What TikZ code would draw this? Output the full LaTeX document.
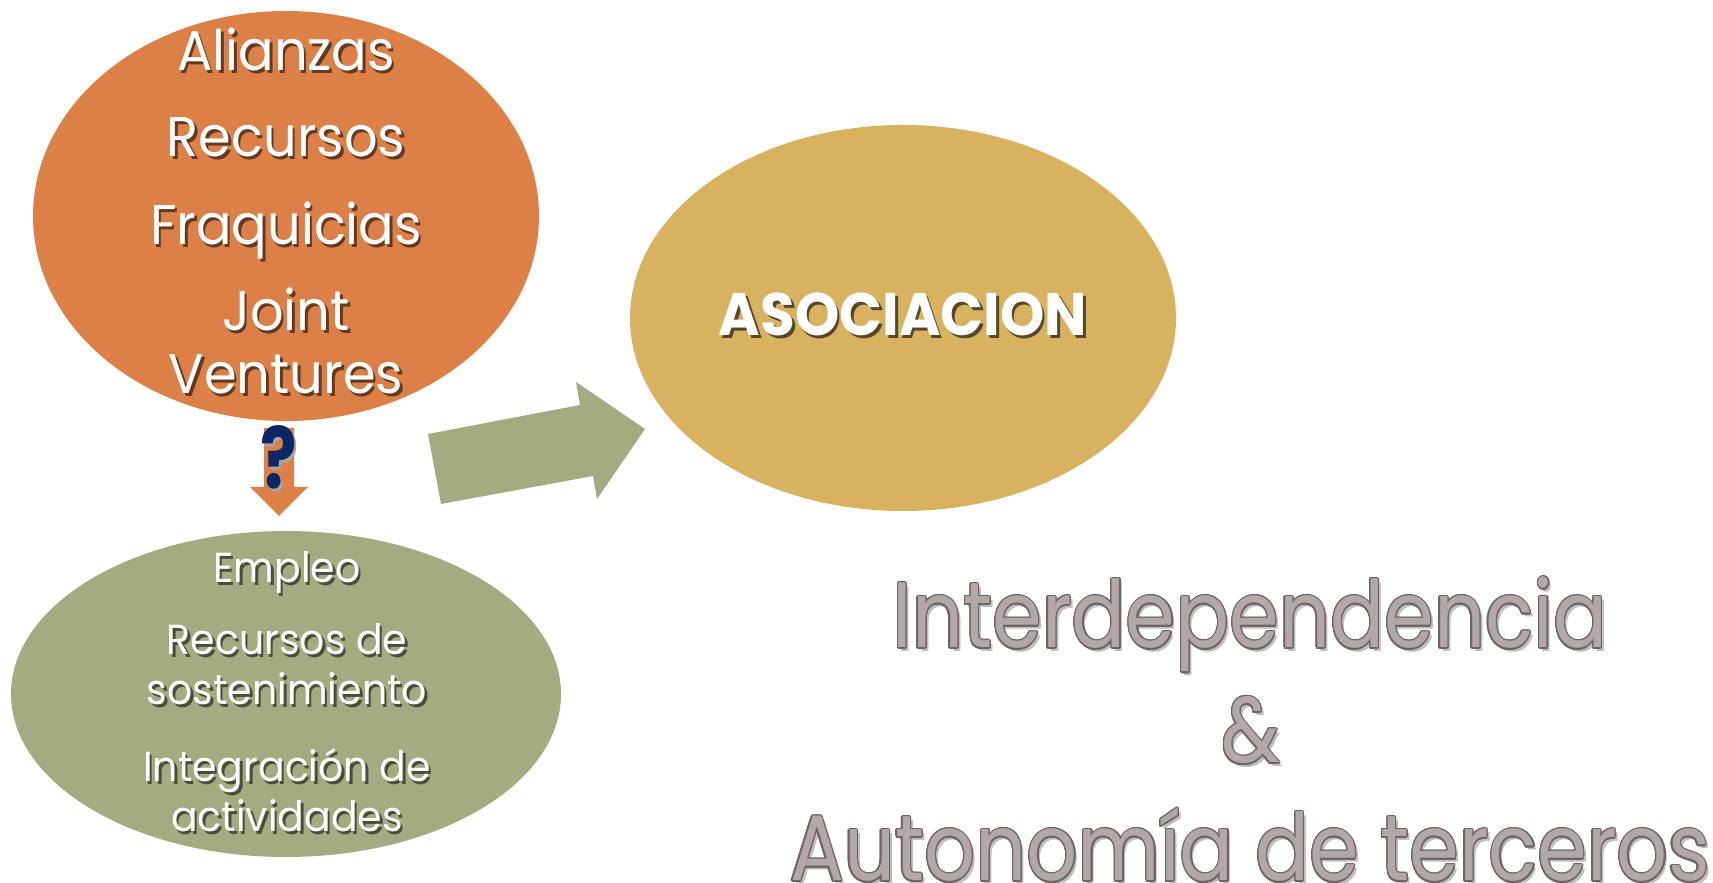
\documentclass[tikz,border=0pt]{standalone}
\usepackage{fontspec}
\setmainfont{Poppins}
\newfontfamily\gothic[FakeStretch=0.94]{Poppins}
\newfontfamily\embfont[FakeStretch=0.86]{Poppins}
\usepackage{contour}
\contourlength{1.3pt}
\usetikzlibrary{shapes.geometric}
\definecolor{orangeF}{RGB}{221,128,72}
\definecolor{goldF}{RGB}{216,178,94}
\definecolor{greenF}{RGB}{164,171,128}
\definecolor{navyQ}{RGB}{14,38,100}
\definecolor{embF}{RGB}{178,168,168}
\definecolor{embD}{RGB}{110,100,100}
\newcommand{\shtxt}[2]{\makebox[0pt][l]{\hspace{2.5pt}\raisebox{-2.5pt}{\textcolor{#1}{#2}}}#2}
\tikzset{
  blob/.style={ellipse, inner sep=0pt, draw=none},
  otext/.style={anchor=base, text=white, font=\gothic\fontsize{56}{60}\selectfont},
  gtext/.style={anchor=base, text=white, font=\gothic\fontsize{42}{46}\selectfont},
  atext/.style={anchor=base, text=white, font=\gothic\bfseries\fontsize{60}{64}\selectfont},
  etext/.style={anchor=base, font=\embfont\fontsize{93}{96}\selectfont},
}
\begin{document}
\begin{tikzpicture}[x=1pt,y=1pt]
\useasboundingbox (0,0) rectangle (1713,883);
\fill[white] (0,0) rectangle (1713,883);
% ellipses
\node[blob, fill=orangeF, minimum width=506, minimum height=410] (orng) at (286,667) {};
\node[blob, fill=goldF, minimum width=546, minimum height=386] (gold) at (903,565) {};
\node[blob, fill=greenF, minimum width=550, minimum height=326] (grn) at (286,189) {};
% green block arrow
\fill[greenF] (428,449) -- (580,478) -- (576,501) -- (645,454) -- (597,384) -- (593,407) -- (441,379) -- cycle;
% orange down arrow
\fill[orangeF] (264,455) -- (294,455) -- (294,396) -- (308,396) -- (279,367) -- (250,396) -- (264,396) -- cycle;
\node[text=navyQ, font=\bfseries\fontsize{85}{88}\selectfont, xscale=0.8, inner sep=0pt] (q) at (279,424) {\shtxt{black!35}{?}};
% orange text
\node[otext] (o1) at (286,812) {\shtxt{black!55!orangeF}{Alianzas}};
\node[otext] (o2) at (286,726) {\shtxt{black!55!orangeF}{Recursos}};
\node[otext] (o3) at (286,638) {\shtxt{black!55!orangeF}{Fraquicias}};
\node[otext] (o4) at (286,552) {\shtxt{black!55!orangeF}{Joint}};
\node[otext] (o5) at (286,489) {\shtxt{black!55!orangeF}{Ventures}};
% gold text
\node[atext] (a1) at (903,547) {\shtxt{black!60!goldF}{ASOCIACION}};
% green text
\node[gtext] (g1) at (287,300) {\shtxt{black!55!greenF}{Empleo}};
\node[gtext] (g2) at (287,228) {\shtxt{black!55!greenF}{Recursos de}};
\node[gtext] (g3) at (287,178) {\shtxt{black!55!greenF}{sostenimiento}};
\node[gtext] (g4) at (287,101) {\shtxt{black!55!greenF}{Integración de}};
\node[gtext] (g5) at (287,51) {\shtxt{black!55!greenF}{actividades}};
% embossed text
\node[etext] (e1) at (1250,235) {\makebox[0pt][l]{\hspace{3pt}\raisebox{-4pt}{\textcolor{black!25}{Interdependencia}}}\contour{embD}{\textcolor{embF}{Interdependencia}}};
\node[etext] (e2) at (1251,120) {\makebox[0pt][l]{\hspace{3pt}\raisebox{-4pt}{\textcolor{black!25}{\&}}}\contour{embD}{\textcolor{embF}{\&}}};
\node[etext] (e3) at (1250,2) {\makebox[0pt][l]{\hspace{3pt}\raisebox{-4pt}{\textcolor{black!25}{Autonomía de terceros}}}\contour{embD}{\textcolor{embF}{Autonomía de terceros}}};
\end{tikzpicture}
\end{document}
